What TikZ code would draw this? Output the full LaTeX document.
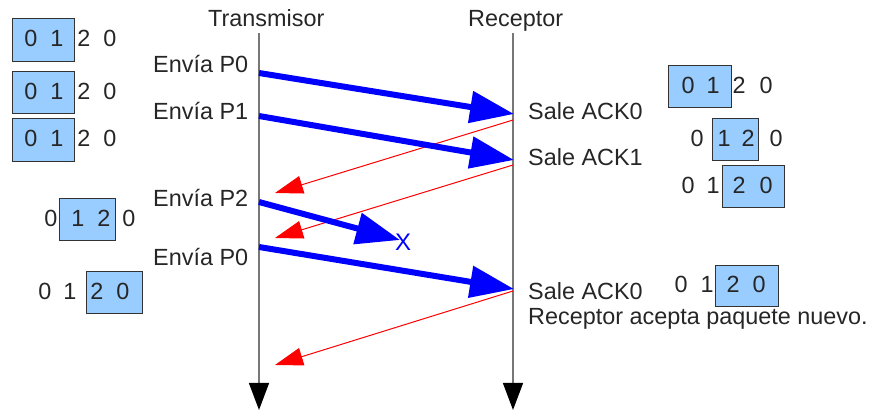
\documentclass[tikz,border=0pt]{standalone}
\usepackage{fontspec}
\setmainfont{Liberation Sans}
\usetikzlibrary{arrows.meta}
\definecolor{winfill}{HTML}{99CCFF}
\definecolor{lifegray}{HTML}{777777}
\begin{document}
\begin{tikzpicture}[x=1pt,y=-1pt,
  lbl/.style={inner sep=0pt,font=\fontsize{23.4}{27}\selectfont,text=black!85},
  digit/.style={inner sep=0pt,anchor=base,font=\fontsize{23.4}{27}\selectfont,text=black!85},
  winbox/.style={draw=black!80,line width=1pt,fill=winfill},
  lifeline/.style={draw=lifegray,line width=1.3pt,-{Triangle[length=27pt,width=20pt,color=black,fill=black]}},
  pkt/.style={draw=blue,line width=6pt,-{Triangle[length=44pt,width=31pt]}},
  ack/.style={draw=red,line width=1pt,-{Triangle[length=28pt,width=18pt]}}]
\useasboundingbox (0,0) rectangle (870,411);
% lifelines
\coordinate (t0) at (259,33); \coordinate (t1) at (259,410);
\coordinate (r0) at (513,33); \coordinate (r1) at (513,410);
\node[lbl,anchor=base west] (tt) at (208,27) {Transmisor};
\node[lbl,anchor=base west] (rt) at (468,27) {Receptor};
% transmitter labels
\node[lbl,anchor=base west] (e1) at (153,73) {Envía P0};
\node[lbl,anchor=base west] (e2) at (153,120) {Envía P1};
\node[lbl,anchor=base west] (e3) at (153,207) {Envía P2};
\node[lbl,anchor=base west] (e4) at (153,266) {Envía P0};
% receiver labels
\node[lbl,anchor=base west] (s1) at (528,120) {Sale ACK0};
\node[lbl,anchor=base west] (s2) at (528,166) {Sale ACK1};
\node[lbl,anchor=base west] (s3) at (528,300) {Sale ACK0};
\node[lbl,anchor=base west] (s4) at (528,325) {Receptor acepta paquete nuevo.};
% arrow endpoints
\coordinate (p1a) at (259,73);  \coordinate (p1b) at (514,114);
\coordinate (p2a) at (259,116); \coordinate (p2b) at (514,160);
\coordinate (p3a) at (259,202); \coordinate (p3b) at (400,240);
\coordinate (p4a) at (259,247); \coordinate (p4b) at (514,289);
\coordinate (a1a) at (513,120); \coordinate (a1b) at (275,193);
\coordinate (a2a) at (513,165); \coordinate (a2b) at (275,238);
\coordinate (a3a) at (513,291); \coordinate (a3b) at (275,365);
\draw[lifeline] (t0) -- (t1);
\draw[lifeline] (r0) -- (r1);
\draw[ack] (a1a) -- (a1b);
\draw[ack] (a2a) -- (a2b);
\draw[ack] (a3a) -- (a3b);
\draw[pkt] (p1a) -- (p1b);
\draw[pkt] (p2a) -- (p2b);
\draw[pkt] (p3a) -- (p3b);
\draw[pkt] (p4a) -- (p4b);
\node[inner sep=0pt,text=blue,font=\fontsize{24}{28}\selectfont] (lost) at (403,242) {X};
% windows left
\draw[winbox] (12,19) rectangle (74,62);
\foreach \x/\d [count=\i] in {31/0,57/1,84/2,110/0} \node[digit] (la\i) at (\x,47) {\d};
\draw[winbox] (12,72) rectangle (74,114);
\foreach \x/\d [count=\i] in {31/0,57/1,84/2,110/0} \node[digit] (lb\i) at (\x,100) {\d};
\draw[winbox] (12,119) rectangle (74,162);
\foreach \x/\d [count=\i] in {31/0,57/1,84/2,110/0} \node[digit] (lc\i) at (\x,147) {\d};
\draw[winbox] (59,199) rectangle (115,241);
\foreach \x/\d [count=\i] in {51/0,78/1,104/2,129/0} \node[digit] (ld\i) at (\x,227) {\d};
\draw[winbox] (86,272) rectangle (142,314);
\foreach \x/\d [count=\i] in {45/0,70/1,97/2,123/0} \node[digit] (le\i) at (\x,300) {\d};
% windows right
\draw[winbox] (668,66) rectangle (731,108);
\foreach \x/\d [count=\i] in {688/0,713/1,739/2,766/0} \node[digit] (ra\i) at (\x,94) {\d};
\draw[winbox] (712,119) rectangle (758,161);
\foreach \x/\d [count=\i] in {697/0,724/1,748/2,776/0} \node[digit] (rb\i) at (\x,147) {\d};
\draw[winbox] (722,166) rectangle (784,208);
\foreach \x/\d [count=\i] in {688/0,713/1,739/2,766/0} \node[digit] (rc\i) at (\x,194) {\d};
\draw[winbox] (715,266) rectangle (778,307);
\foreach \x/\d [count=\i] in {681/0,707/1,733/2,759/0} \node[digit] (rd\i) at (\x,293) {\d};
\end{tikzpicture}
\end{document}
